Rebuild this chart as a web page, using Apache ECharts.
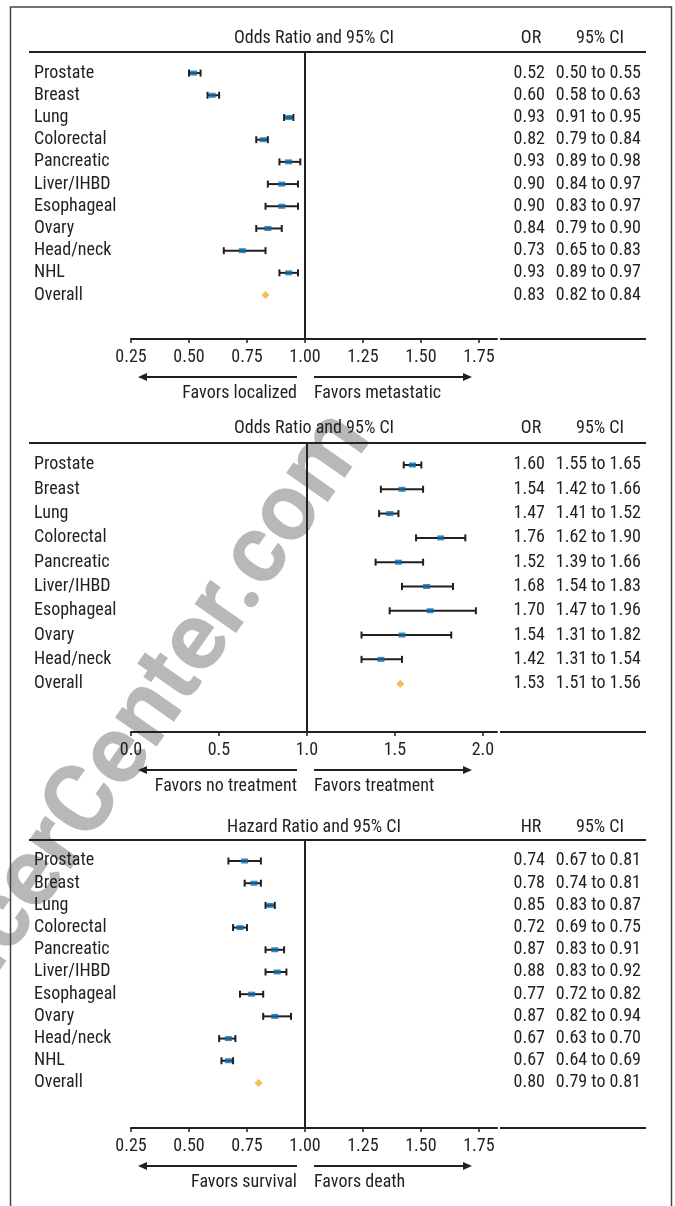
<!DOCTYPE html>
<html>
<head>
<meta charset="utf-8">
<script src="https://cdn.jsdelivr.net/npm/echarts@6/dist/echarts.min.js"></script>
<style>
  html, body { margin: 0; padding: 0; background: #fff; }
  #chart { width: 675px; height: 1206px; }
</style>
</head>
<body>
<div id="chart"></div>
<script>
// --- data: localized vs metastatic (OR)
const sites1 = ['Prostate', 'Breast', 'Lung', 'Colorectal', 'Pancreatic', 'Liver/IHBD', 'Esophageal', 'Ovary', 'Head/neck', 'NHL', 'Overall'];
const est1 = [0.52, 0.60, 0.93, 0.82, 0.93, 0.90, 0.90, 0.84, 0.73, 0.93, 0.83];
const lo1 = [0.50, 0.58, 0.91, 0.79, 0.89, 0.84, 0.83, 0.79, 0.65, 0.89, 0.82];
const hi1 = [0.55, 0.63, 0.95, 0.84, 0.98, 0.97, 0.97, 0.90, 0.83, 0.97, 0.84];

// --- data: treatment (OR)
const sites2 = ['Prostate', 'Breast', 'Lung', 'Colorectal', 'Pancreatic', 'Liver/IHBD', 'Esophageal', 'Ovary', 'Head/neck', 'Overall'];
const est2 = [1.60, 1.54, 1.47, 1.76, 1.52, 1.68, 1.70, 1.54, 1.42, 1.53];
const lo2 = [1.55, 1.42, 1.41, 1.62, 1.39, 1.54, 1.47, 1.31, 1.31, 1.51];
const hi2 = [1.65, 1.66, 1.52, 1.90, 1.66, 1.83, 1.96, 1.82, 1.54, 1.56];

// --- data: survival (HR)
const sites3 = ['Prostate', 'Breast', 'Lung', 'Colorectal', 'Pancreatic', 'Liver/IHBD', 'Esophageal', 'Ovary', 'Head/neck', 'NHL', 'Overall'];
const est3 = [0.74, 0.78, 0.85, 0.72, 0.87, 0.88, 0.77, 0.87, 0.67, 0.67, 0.80];
const lo3 = [0.67, 0.74, 0.83, 0.69, 0.83, 0.83, 0.72, 0.82, 0.63, 0.64, 0.79];
const hi3 = [0.81, 0.81, 0.87, 0.75, 0.91, 0.92, 0.82, 0.94, 0.70, 0.69, 0.81];

// tick labels
const ticksA = [0.25, 0.50, 0.75, 1.00, 1.25, 1.50, 1.75];
const ticksB = [0.0, 0.5, 1.0, 1.5, 2.0];

const FONT = "'Liberation Sans Narrow', 'Roboto Condensed', 'DejaVu Sans Condensed', sans-serif";
const INK = '#231f20';
const FS = 18;

// layout per panel (pixels)
const panels = [
  { names: sites1, est: est1, lo: lo1, hi: hi1, ticks: ticksA, digits: 2,
    title: 'Odds Ratio and 95% CI', col: 'OR', favL: 'Favors localized', favR: 'Favors metastatic',
    titleY: 38, top: 52, bottom: 339, xMin: 0.25, xMax: 1.828, yMin: -0.95, yMax: 11.98 },
  { names: sites2, est: est2, lo: lo2, hi: hi2, ticks: ticksB, digits: 1,
    title: 'Odds Ratio and 95% CI', col: 'OR', favL: 'Favors no treatment', favR: 'Favors treatment',
    titleY: 428, top: 443, bottom: 732, xMin: 0, xMax: 2.08, yMin: -0.905, yMax: 10.99 },
  { names: sites3, est: est3, lo: lo3, hi: hi3, ticks: ticksA, digits: 2,
    title: 'Hazard Ratio and 95% CI', col: 'HR', favL: 'Favors survival', favR: 'Favors death',
    titleY: 827, top: 840, bottom: 1128, xMin: 0.25, xMax: 1.828, yMin: -0.946, yMax: 12.03 }
];

const PLOT_L = 131, PLOT_R = 497;
const RULE_L = 29, RULE_R = 646, SEG_L = 500;
const OR_X = 545, CI_X = 641;

const grid = [], xAxis = [], yAxis = [], series = [], graphic = [];

const txt = (text, x, y, align, size) => ({
  type: 'text', x: x, y: y, silent: true, z: 10,
  style: { text: text, fill: INK, font: (size || FS) + 'px ' + FONT, textAlign: align || 'center', textVerticalAlign: 'middle' }
});
const seg = (x1, y1, x2, y2, w) => ({
  type: 'line', silent: true, z: 10,
  shape: { x1: x1, y1: y1, x2: x2, y2: y2 },
  style: { stroke: INK, lineWidth: w || 2 }
});
const head = (tipX, y, dir) => ({
  type: 'polygon', silent: true, z: 10,
  shape: { points: [[tipX, y], [tipX + dir * 9, y - 4], [tipX + dir * 9, y + 4]] },
  style: { fill: INK }
});

// watermark (under everything)
graphic.push({
  type: 'text', x: 392, y: 452, rotation: 55 * Math.PI / 180, silent: true, z: -100,
  style: { text: 'CancerCenter.com', fill: '#b8b8b8', font: 'bold 96px Roboto, sans-serif',
    textAlign: 'right', textVerticalAlign: 'bottom' }
});

// outer frame
graphic.push({
  type: 'rect', silent: true, z: 10,
  shape: { x: 10.5, y: 7, width: 661, height: 1230 },
  style: { fill: 'none', stroke: '#444', lineWidth: 1.5 }
});

panels.forEach(function (p, k) {
  grid.push({ left: PLOT_L, width: PLOT_R - PLOT_L, top: p.top, height: p.bottom - p.top });
  const idx = p.names.map(function (_, i) { return i; });

  xAxis.push({
    gridIndex: k, type: 'value', min: p.xMin, max: p.xMax, position: 'bottom',
    axisLine: { onZero: false, lineStyle: { color: INK, width: 2 } },
    axisTick: { customValues: p.ticks, length: 4, lineStyle: { color: INK, width: 1.5 } },
    axisLabel: { customValues: p.ticks, margin: 9, color: INK, fontSize: FS, fontFamily: FONT,
      formatter: function (v) { return v.toFixed(p.digits); } },
    splitLine: { show: false }
  });

  const yBase = { gridIndex: k, type: 'value', inverse: true, min: p.yMin, max: p.yMax,
    axisLine: { show: false, onZero: false }, axisTick: { show: false }, splitLine: { show: false } };
  // site names
  yAxis.push(Object.assign({}, yBase, {
    position: 'left',
    axisLabel: { customValues: idx, align: 'left', margin: PLOT_L - 34, color: INK, fontSize: FS, fontFamily: FONT,
      formatter: function (v) { return p.names[v]; } }
  }));
  // estimate column
  yAxis.push(Object.assign({}, yBase, {
    position: 'right',
    axisLabel: { customValues: idx, align: 'right', margin: OR_X - PLOT_R, color: INK, fontSize: FS, fontFamily: FONT,
      formatter: function (v) { return p.est[v].toFixed(2); } }
  }));
  // CI column
  yAxis.push(Object.assign({}, yBase, {
    position: 'right',
    axisLabel: { customValues: idx, align: 'right', margin: CI_X - PLOT_R, color: INK, fontSize: FS, fontFamily: FONT,
      formatter: function (v) { return p.lo[v].toFixed(2) + ' to ' + p.hi[v].toFixed(2); } }
  }));

  const yi = k * 3;
  const bars = [], pts = [], overall = [];
  p.names.forEach(function (n, i) {
    if (n === 'Overall') {
      overall.push([p.est[i], i]);
    } else {
      bars.push([p.lo[i], p.hi[i], i]);
      pts.push([p.est[i], i]);
    }
  });

  series.push({
    type: 'custom', xAxisIndex: k, yAxisIndex: yi, data: bars,
    encode: { x: [0, 1], y: 2 }, silent: true, z: 3,
    renderItem: function (params, api) {
      const y = api.value(2);
      const a = api.coord([api.value(0), y]);
      const b = api.coord([api.value(1), y]);
      const h = 3.5;
      const st = { stroke: INK, lineWidth: 2 };
      return { type: 'group', children: [
        { type: 'line', shape: { x1: a[0], y1: a[1], x2: b[0], y2: b[1] }, style: st },
        { type: 'line', shape: { x1: a[0], y1: a[1] - h, x2: a[0], y2: a[1] + h }, style: st },
        { type: 'line', shape: { x1: b[0], y1: b[1] - h, x2: b[0], y2: b[1] + h }, style: st }
      ] };
    }
  });
  series.push({
    type: 'scatter', xAxisIndex: k, yAxisIndex: yi, data: pts, silent: true, z: 4,
    symbol: 'rect', symbolSize: [7, 5], itemStyle: { color: '#0a6aa8' },
    markLine: { silent: true, symbol: 'none', label: { show: false },
      lineStyle: { color: INK, width: 2, type: 'solid' }, data: [{ xAxis: 1 }] }
  });
  series.push({
    type: 'scatter', xAxisIndex: k, yAxisIndex: yi, data: overall, silent: true, z: 4,
    symbol: 'diamond', symbolSize: [8, 8], itemStyle: { color: '#f0b21e' }
  });

  // headers and rules
  graphic.push(txt(p.title, (PLOT_L + PLOT_R) / 2, p.titleY));
  graphic.push(txt(p.col, 531, p.titleY));
  graphic.push(txt('95% CI', 600, p.titleY));
  graphic.push(seg(RULE_L, p.top, RULE_R, p.top, 2));
  graphic.push(seg(SEG_L, p.bottom, RULE_R, p.bottom, 2));

  // direction arrows
  const ay = p.bottom + 38;
  graphic.push(seg(146, ay, 297, ay, 2));
  graphic.push(head(138, ay, 1));
  graphic.push(seg(314, ay, 464, ay, 2));
  graphic.push(head(472, ay, -1));
  graphic.push(txt(p.favL, 297, p.bottom + 54, 'right'));
  graphic.push(txt(p.favR, 314, p.bottom + 54, 'left'));
});

const chart = echarts.init(document.getElementById('chart'));
chart.setOption({
  animation: false,
  backgroundColor: '#fff',
  grid: grid, xAxis: xAxis, yAxis: yAxis, series: series, graphic: graphic
});
window.addEventListener('resize', function () { chart.resize(); });
</script>
</body>
</html>
